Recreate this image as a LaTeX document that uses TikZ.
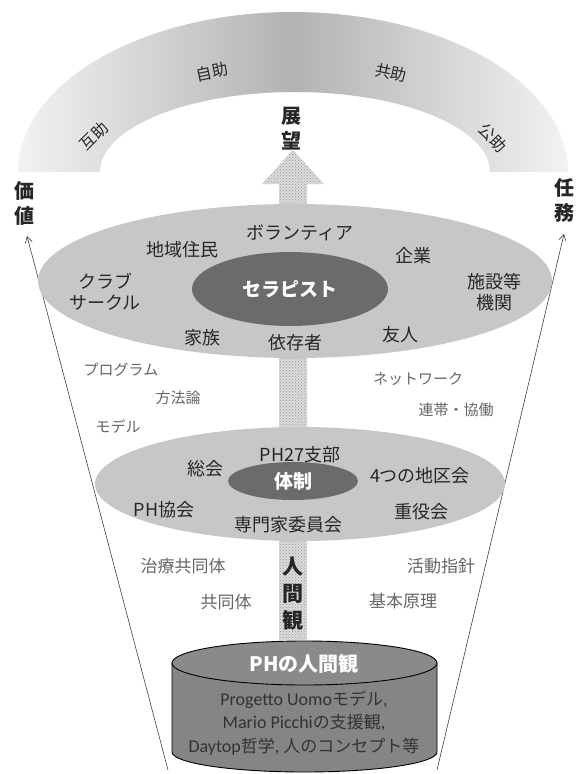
\documentclass[tikz,border=0pt]{standalone}
\usepackage{fontspec}
\setmainfont{Noto Sans CJK JP}
\newfontfamily\latfont{Carlito}
\usetikzlibrary{arrows.meta,patterns}
\begin{document}
\begin{tikzpicture}[x=1pt,y=-1pt,
  lbl/.style={font=\fontsize{18}{21}\selectfont, text=black!85, align=center, inner sep=0pt},
  sublbl/.style={font=\fontsize{15}{17}\selectfont, text=black!60, inner sep=0pt},
  vert/.style={font=\bfseries\fontsize{20}{25}\selectfont, align=center, inner sep=0pt, text=black!85},
  arclbl/.style={font=\fontsize{16}{18}\selectfont, text=black!85, inner sep=0pt},
  whitelbl/.style={font=\bfseries\fontsize{19}{21}\selectfont, text=white, inner sep=0pt},
  thinarrow/.style={draw=black!75, line width=0.6pt, -{Straight Barb[length=6pt,width=7pt]}},
  cyltext/.style={font=\latfont\fontsize{18}{23.5}\selectfont, text=black!80, align=center, inner sep=0pt}
]
\useasboundingbox (0,0) rectangle (586,774);
\fill[white] (0,0) rectangle (586,774);

% arc band
\shade[left color=black!5, right color=black!5, middle color=black!30]
  (18,172) arc[start angle=180, end angle=360, x radius=275, y radius=160]
  -- (490,172) arc[start angle=0, end angle=-180, x radius=195, y radius=80] -- cycle;
\node[arclbl, rotate=45] (gojo) at (94,136) {互助};
\node[arclbl, rotate=12] (jijo) at (212,72) {自助};
\node[arclbl, rotate=-12] (kyojo) at (391,73) {共助};
\node[arclbl, rotate=-45] (kojo) at (493,138) {公助};
\node[vert] (tenbo) at (291,129) {展\\望};

% big arrow
\path[fill=black!14] (279,640) -- (279,184) -- (262,184) -- (293,150) -- (324,184) -- (307,184) -- (307,640) -- cycle;
\path[pattern=crosshatch dots, pattern color=black!40] (279,640) -- (279,184) -- (262,184) -- (293,150) -- (324,184) -- (307,184) -- (307,640) -- cycle;

% side labels and arrows
\node[vert] (kachi) at (24,203) {価\\値};
\node[vert] (ninmu) at (564,200) {任\\務};
\coordinate (lb) at (168,770);
\coordinate (lt) at (27,236);
\coordinate (rb) at (437,770);
\coordinate (rt) at (564,234);
\draw[thinarrow] (lb) -- (lt);
\draw[thinarrow] (rb) -- (rt);

% big ellipse
\fill[black!22] (295,281) ellipse[x radius=257, y radius=77];
\fill[black!58] (290,289) ellipse[x radius=98, y radius=37];
\node[whitelbl] (therapist) at (290,289) {セラピスト};
\node[lbl] (chiiki) at (182,250) {地域住民};
\node[lbl] (volunteer) at (300,233) {ボランティア};
\node[lbl] (kigyo) at (413,256) {企業};
\node[lbl] (club) at (105,292) {クラブ\\サークル};
\node[lbl] (shisetsu) at (494,292) {施設等\\機関};
\node[lbl] (kazoku) at (202,338) {家族};
\node[lbl] (izon) at (295,343) {依存者};
\node[lbl] (yujin) at (400,335) {友人};

% middle labels
\node[sublbl] (program) at (121,370) {プログラム};
\node[sublbl] (hoho) at (178,398) {方法論};
\node[sublbl] (model) at (118,427) {モデル};
\node[sublbl] (network) at (418,379) {ネットワーク};
\node[sublbl] (rentai) at (456,410) {連帯・協働};

% second ellipse
\fill[black!22] (300,484) ellipse[x radius=205, y radius=57];
\fill[black!58] (293,481) ellipse[x radius=65, y radius=19];
\node[whitelbl] (taisei) at (293,481) {体制};
\node[lbl] (sokai) at (205,469) {総会};
\node[lbl] (shibu) at (300,455) {PH27支部};
\node[lbl] (chiku) at (420,476) {4つの地区会};
\node[lbl] (kyokai) at (164,510) {PH協会};
\node[lbl] (senmon) at (288,525) {専門家委員会};
\node[lbl] (juyaku) at (421,512) {重役会};

% lower labels
\node[sublbl, font=\fontsize{17}{19}\selectfont] (chiryo) at (183,566) {治療共同体};
\node[sublbl, font=\fontsize{17}{19}\selectfont] (kyodo) at (226,602) {共同体};
\node[sublbl, font=\fontsize{17}{19}\selectfont] (katsudo) at (441,566) {活動指針};
\node[sublbl, font=\fontsize{17}{19}\selectfont] (kihon) at (403,601) {基本原理};
\node[vert, font=\bfseries\fontsize{21}{27}\selectfont] (ningenkan) at (293,594) {人\\間\\観};

% cylinder
\path[fill=black!48, draw=black, line width=0.9pt]
  (172,663) -- (172,752) arc[start angle=180, end angle=0, x radius=132.5, y radius=20] -- (437,663) -- cycle;
\path[fill=black!46, draw=black, line width=0.9pt] (304.5,663) ellipse[x radius=132.5, y radius=22];
\node[whitelbl, font=\bfseries\fontsize{20}{22}\selectfont] (phtitle) at (304,664) {PH{\rmfamily の人間観}};
\node[cyltext] (cylbody) at (304,723) {Progetto Uomo{\rmfamily\fontsize{17}{23.5}\selectfont モデル}, \\ Mario Picchi{\rmfamily\fontsize{17}{23.5}\selectfont の支援観}, \\ Daytop{\rmfamily\fontsize{17}{23.5}\selectfont 哲学}, {\rmfamily\fontsize{17}{23.5}\selectfont 人のコンセプト等}};
\end{tikzpicture}
\end{document}
